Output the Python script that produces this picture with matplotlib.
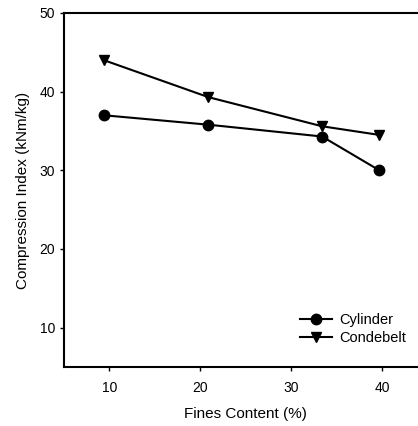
import matplotlib
matplotlib.use("Agg")
import matplotlib.pyplot as plt

plt.rcParams['font.family'] = ['Liberation Sans', 'DejaVu Sans']

fines = [9.4, 20.9, 33.4, 39.7]
cylinder = [37.0, 35.8, 34.3, 30.0]
condebelt = [44.0, 39.3, 35.6, 34.5]
xticks = [10, 20, 30, 40]
yticks = [10, 20, 30, 40, 50]

W, H = 418, 426
fig = plt.figure(figsize=(W/100, H/100), dpi=100)
left, right, top, bottom = 64, 427.5, 13, 367
ax = fig.add_axes([left/W, 1 - bottom/H, (right-left)/W, (bottom-top)/H])

ax.plot(fines, cylinder, '-o', color='black', lw=1.5, ms=7.5, label='Cylinder')
ax.plot(fines, condebelt, '-v', color='black', lw=1.5, ms=7.5, label='Condebelt')

ax.set_xlim(5, 45)
ax.set_ylim(5, 50)
ax.set_xticks(xticks)
ax.set_yticks(yticks)
ax.tick_params(direction='out', length=3, width=1, labelsize=10)
ax.tick_params(axis='x', pad=7)
for s in ax.spines.values():
    s.set_linewidth(1.5)
ax.set_xlabel('Fines Content (%)', fontsize=11, labelpad=9)
ax.set_ylabel('Compression Index (kNm/kg)', fontsize=11, labelpad=7)

ax.legend(loc='lower right', bbox_to_anchor=(0.977, 0.025), frameon=False,
          fontsize=10.5, handlelength=2.2, handletextpad=0.5, labelspacing=0.3)

fig.savefig('out.png', dpi=100)
